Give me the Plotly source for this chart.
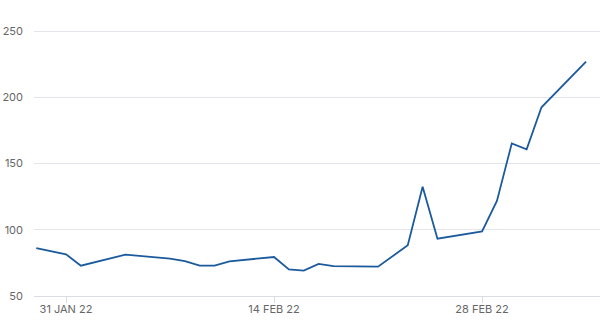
import plotly.graph_objects as go

dates = ["2022-01-29", "2022-01-31", "2022-02-01", "2022-02-04", "2022-02-07", "2022-02-08",
         "2022-02-09", "2022-02-10", "2022-02-11", "2022-02-14", "2022-02-15", "2022-02-16",
         "2022-02-17", "2022-02-18", "2022-02-21", "2022-02-23", "2022-02-24", "2022-02-25",
         "2022-02-28", "2022-03-01", "2022-03-02", "2022-03-03", "2022-03-04", "2022-03-07"]
values = [86.2, 81.5, 72.9, 81.2, 78.2, 76.4,
          72.9, 72.9, 76.2, 79.4, 70.1, 69.1,
          74.2, 72.6, 72.1, 88.3, 132.5, 93.3,
          98.8, 121.7, 165.2, 160.7, 192.4, 226.9]
tick_dates = ["2022-01-31", "2022-02-14", "2022-02-28"]
tick_labels = ["31 JAN 22", "14 FEB 22", "28 FEB 22"]
y_ticks = [50, 100, 150, 200, 250]

fig = go.Figure()
fig.add_trace(go.Scatter(x=dates, y=values, mode="lines",
                         line=dict(color="#1b5a9c", width=1.8), hoverinfo="skip"))

fig.update_layout(
    width=600, height=322,
    margin=dict(l=34, r=0, t=0, b=26),
    paper_bgcolor="white", plot_bgcolor="white",
    showlegend=False,
    font=dict(family="Inter, sans-serif", size=11, color="#666666"),
)
fig.update_xaxes(
    type="date",
    range=["2022-01-28 20:18", "2022-03-07 22:30"],
    tickvals=tick_dates, ticktext=tick_labels,
    ticks="outside", ticklen=6, tickcolor="#d9dce3", tickwidth=1,
    showgrid=False, showline=True, linecolor="#d9dce3", linewidth=1,
    zeroline=False, ticklabelstandoff=-3,
    tickfont=dict(size=11, color="#666666"),
)
fig.update_yaxes(
    range=[50, 273.4],
    tickvals=y_ticks,
    showgrid=True, gridcolor="#e3e5ea", gridwidth=1,
    zeroline=False, showline=False,
    ticks="", ticklabelstandoff=10,
    tickfont=dict(size=11, color="#666666"),
)

fig.write_html("out.html")
